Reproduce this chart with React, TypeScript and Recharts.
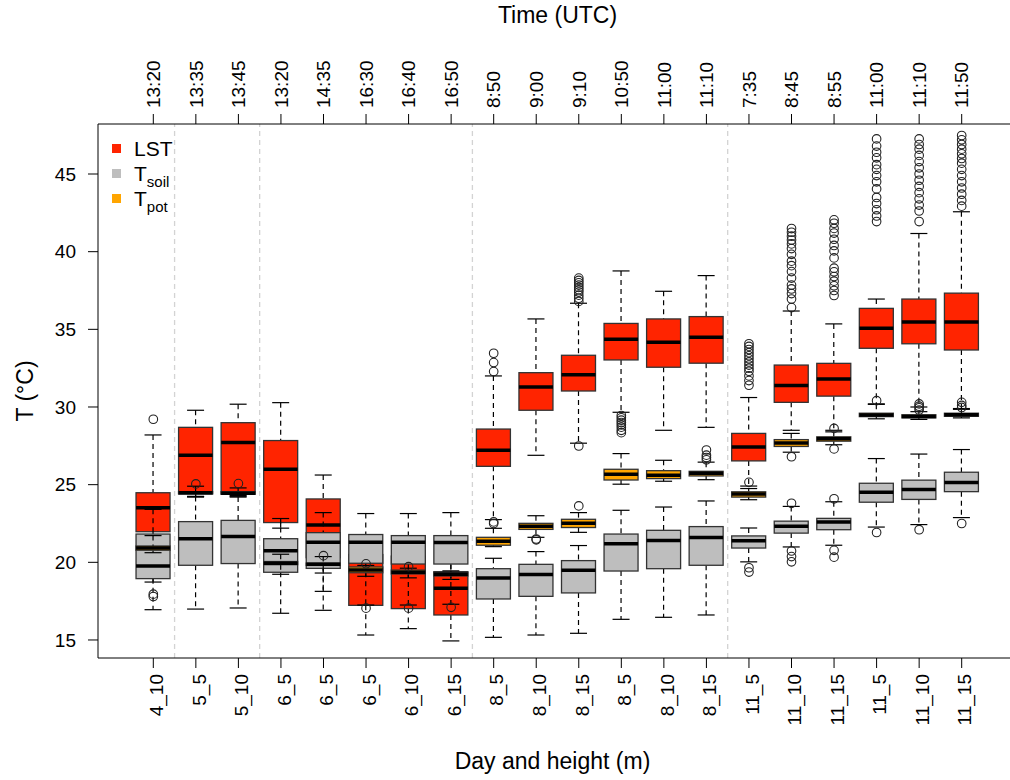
import React from "react";
import { Bar, ComposedChart, Legend, ReferenceLine, Scatter, Text, XAxis, YAxis } from "recharts";

// day_height labels (bottom) and acquisition times (top)
const dayHeight = ["4_10", "5_5", "5_10", "6_5", "6_5", "6_5", "6_10", "6_15", "8_5", "8_10", "8_15", "8_5", "8_10", "8_15", "11_5", "11_10", "11_15", "11_5", "11_10", "11_15"];
const times = ["13:20", "13:35", "13:45", "13:20", "14:35", "16:30", "16:40", "16:50", "8:50", "9:00", "9:10", "10:50", "11:00", "11:10", "7:35", "8:45", "8:55", "11:00", "11:10", "11:50"];

// box stats: [lower whisker, Q1, median, Q3, upper whisker]
const lst = [
  [18.73, 21.97, 23.52, 24.48, 28.2],
  [24.2, 24.4, 26.89, 28.69, 29.79],
  [24.3, 24.4, 27.71, 28.99, 30.18],
  [22.2, 22.56, 25.99, 27.84, 30.28],
  [18.13, 20.3, 22.4, 24.08, 25.62],
  [15.32, 17.23, 19.51, 20.5, 21.5],
  [15.73, 17.02, 19.36, 20.4, 21.5],
  [14.94, 16.61, 18.33, 19.4, 21.0],
  [22.75, 26.18, 27.21, 28.58, 32.0],
  [26.89, 29.79, 31.29, 32.21, 35.67],
  [27.67, 31.03, 32.08, 33.33, 36.68],
  [29.66, 33.03, 34.36, 35.38, 38.76],
  [28.5, 32.56, 34.17, 35.67, 37.45],
  [28.69, 32.82, 34.49, 35.82, 38.46],
  [24.91, 26.53, 27.42, 28.3, 30.61],
  [28.5, 30.3, 31.39, 32.7, 36.18],
  [28.5, 30.7, 31.8, 32.81, 35.35],
  [30.2, 33.78, 35.07, 36.35, 36.95],
  [30.0, 34.07, 35.47, 36.95, 41.17],
  [29.9, 33.67, 35.47, 37.33, 42.57],
];
const soil = [
  [16.95, 18.95, 19.76, 21.82, 23.41],
  [16.99, 19.81, 21.52, 22.62, 24.24],
  [17.06, 19.92, 21.66, 22.7, 24.2],
  [16.72, 19.36, 20.75, 21.52, 22.82],
  [16.91, 19.61, 21.29, 21.91, 23.2],
  [17.25, 19.94, 21.29, 21.79, 23.14],
  [17.25, 19.89, 21.29, 21.72, 23.14],
  [17.3, 19.89, 21.27, 21.72, 23.2],
  [15.17, 17.64, 18.99, 19.59, 20.26],
  [15.32, 17.81, 19.21, 19.87, 20.69],
  [15.43, 18.03, 19.49, 20.11, 21.08],
  [16.33, 19.44, 21.2, 21.82, 23.35],
  [16.46, 19.59, 21.4, 22.06, 23.56],
  [16.61, 19.81, 21.59, 22.3, 23.95],
  [20.03, 20.92, 21.39, 21.7, 22.21],
  [20.99, 21.88, 22.32, 22.65, 23.6],
  [21.1, 22.1, 22.59, 22.83, 23.9],
  [22.27, 23.87, 24.51, 25.09, 26.68],
  [22.43, 24.05, 24.69, 25.29, 26.97],
  [22.88, 24.55, 25.14, 25.8, 27.26],
];
const pot = [
  [20.62, 20.78, 20.92, 21.05, 21.72],
  [24.24, 24.42, 24.48, 24.55, 24.9],
  [24.25, 24.38, 24.45, 24.55, 24.79],
  [19.23, 19.85, 19.94, 20.05, 20.52],
  [19.31, 19.8, 19.87, 19.95, 20.37],
  [19.1, 19.33, 19.5, 19.7, 19.8],
  [19.0, 19.25, 19.36, 19.5, 19.62],
  [18.9, 19.12, 19.23, 19.35, 19.45],
  [21.01, 21.1, 21.36, 21.61, 22.19],
  [21.61, 22.12, 22.32, 22.51, 23.0],
  [21.93, 22.24, 22.51, 22.77, 23.2],
  [25.03, 25.3, 25.67, 25.99, 27.0],
  [25.22, 25.39, 25.6, 25.9, 26.57],
  [25.32, 25.56, 25.73, 25.86, 26.45],
  [24.03, 24.2, 24.4, 24.54, 24.75],
  [27.09, 27.46, 27.68, 27.9, 28.3],
  [27.57, 27.8, 27.95, 28.08, 28.4],
  [29.24, 29.38, 29.49, 29.6, 30.17],
  [29.2, 29.3, 29.39, 29.5, 29.7],
  [29.3, 29.4, 29.5, 29.6, 29.85],
];

// outliers per box
const lstOut = [
  [29.21, 17.95, 17.8], [], [], [], [], [], [], [],
  [32.28, 32.86, 33.46],
  [],
  [27.49, 36.8, 37.0, 37.2, 37.4, 37.55, 37.7, 37.85, 38.0, 38.15, 38.3],
  [29.45, 29.3, 29.15, 29.0, 28.85, 28.7, 28.5, 28.35],
  [], [],
  [31.4, 31.7, 32.0, 32.3, 32.5, 32.7, 32.9, 33.1, 33.3, 33.5, 33.7, 33.9, 34.07],
  [36.4, 36.95, 37.3, 37.6, 37.85, 38.3, 38.72, 39.1, 39.39, 39.83, 40.2, 40.5, 40.75, 41.0, 41.25, 41.49],
  [37.18, 37.5, 37.8, 38.1, 38.4, 38.7, 38.94, 39.6, 40.05, 40.4, 40.8, 41.2, 41.5, 41.83, 42.05],
  [41.94, 42.3, 42.7, 43.1, 43.49, 44.04, 44.5, 44.9, 45.3, 45.6, 46.04, 46.4, 46.8, 47.26],
  [41.94, 42.62, 43.0, 43.4, 43.8, 44.2, 44.6, 45.0, 45.4, 45.8, 46.2, 46.6, 46.9, 47.26],
  [42.93, 43.3, 43.7, 44.1, 44.5, 44.9, 45.3, 45.7, 46.0, 46.3, 46.6, 46.9, 47.2, 47.48],
];
const soilOut = [
  [], [], [], [], [], [17.05], [17.05], [17.1], [], [], [], [], [], [],
  [19.65, 19.37],
  [23.8, 20.73, 20.37, 20.03],
  [24.09, 20.77, 20.33],
  [21.92], [22.1], [22.5],
];
const potOut = [
  [], [25.05], [25.07], [], [20.43], [19.9], [19.72], [],
  [22.5, 22.6],
  [21.45, 21.5],
  [23.63],
  [], [],
  [26.6, 26.75, 26.9, 27.23],
  [25.15],
  [26.8],
  [28.62, 27.3],
  [30.41],
  [29.8, 29.95, 30.05, 30.2],
  [29.97, 30.1, 30.3],
];

const legendNames = ["LST", "T", "T"];
const legendSubs = ["", "soil", "pot"];
const yTicks = [15, 20, 25, 30, 35, 40, 45];
const separators = [1.5, 3.5, 8.5, 14.5];

const RED = "#ff2400";
const GRAY = "#bebebe";
const ORANGE = "#ffa500";
const colors = [RED, GRAY, ORANGE];

const positions = dayHeight.map((_, i) => i + 1);
// each row carries the whisker range (what the bar spans) plus the full stats
const rows = positions.map((pos, i) => ({
  pos,
  lst: lst[i],
  soil: soil[i],
  pot: pot[i],
  lstRange: [lst[i][0], lst[i][4]],
  soilRange: [soil[i][0], soil[i][4]],
  potRange: [pot[i][0], pot[i][4]],
}));
const toPoints = (out: number[][]) => out.flatMap((vals, i) => vals.map((t) => ({ pos: i + 1, t })));

const xDomain: [number, number] = [-0.3, 21.3];
const FONT = "'Liberation Sans', Arial, Helvetica, sans-serif";

function BoxShape(props: any) {
  const { x, y, width, height, payload, statKey, fill } = props;
  const stats = payload && payload[statKey];
  if (!stats || !Number.isFinite(y) || !Number.isFinite(height)) return null;
  const [lo, q1, med, q3, hi] = stats as number[];
  // the bar spans lo..hi, so the other stats are placed on the same linear scale
  const toY = (v: number) => y + ((hi - v) / (hi - lo)) * height;
  const cx = x + width / 2;
  const cap = width / 4;
  return (
    <g>
      <line x1={cx} x2={cx} y1={toY(hi)} y2={toY(q3)} stroke="#000" strokeWidth={1.2} strokeDasharray="5 4" />
      <line x1={cx} x2={cx} y1={toY(q1)} y2={toY(lo)} stroke="#000" strokeWidth={1.2} strokeDasharray="5 4" />
      <line x1={cx - cap} x2={cx + cap} y1={toY(hi)} y2={toY(hi)} stroke="#000" strokeWidth={1.2} />
      <line x1={cx - cap} x2={cx + cap} y1={toY(lo)} y2={toY(lo)} stroke="#000" strokeWidth={1.2} />
      <rect x={x} y={toY(q3)} width={width} height={Math.max(toY(q1) - toY(q3), 0.5)} fill={fill} stroke="#333" strokeWidth={1.3} />
      <line x1={x} x2={x + width} y1={toY(med)} y2={toY(med)} stroke="#000" strokeWidth={3.5} />
    </g>
  );
}

function Ring(props: any) {
  if (!Number.isFinite(props.cx) || !Number.isFinite(props.cy)) return null;
  return <circle cx={props.cx} cy={props.cy} r={4.3} fill="none" stroke="#222" strokeWidth={1.1} />;
}

function BottomTick(props: any) {
  const { x, y, payload } = props;
  return (
    <g transform="translate(3, 0)">
      <Text x={x} y={y} angle={-90} textAnchor="end" verticalAnchor="middle" fontSize={19} fill="#000">
        {dayHeight[Math.round(payload?.value) - 1] ?? ""}
      </Text>
    </g>
  );
}

function TopTick(props: any) {
  const { x, y, payload } = props;
  return (
    <Text x={x} y={y} angle={-90} textAnchor="start" verticalAnchor="middle" fontSize={19} fill="#000">
      {times[Math.round(payload?.value) - 1] ?? ""}
    </Text>
  );
}

function YTitle(props: any) {
  const vb = props.viewBox || { x: 0, y: 124, width: 98, height: 534 };
  const cx = vb.x + 25;
  const cy = vb.y + vb.height / 2;
  return (
    <text x={cx} y={cy} transform={`rotate(-90, ${cx}, ${cy})`} textAnchor="middle" dy="0.36em" fontSize={23} fill="#000">
      T (°C)
    </text>
  );
}

function LegendBox() {
  return (
    <div style={{ fontSize: 21, whiteSpace: "nowrap", color: "#000", width: 120 }}>
      {legendNames.map((n, i) => (
        <div key={i} style={{ display: "flex", alignItems: "center", height: 25 }}>
          <span style={{ display: "inline-block", flexShrink: 0, width: 9, height: 9, background: colors[i], marginRight: 13 }} />
          <span>
            {n}
            <span style={{ fontSize: 15, position: "relative", top: 6 }}>{legendSubs[i]}</span>
          </span>
        </div>
      ))}
    </div>
  );
}

export default function App() {
  return (
    <div style={{ position: "absolute", left: 0, top: 0, width: 1010, height: 780, overflow: "hidden", background: "#fff", fontFamily: FONT }}>
      <ComposedChart width={1030} height={780} data={rows} margin={{ top: 0, right: 13, bottom: 0, left: 0 }}>
        <XAxis
          xAxisId="bottom"
          dataKey="pos"
          type="number"
          domain={xDomain}
          ticks={positions}
          interval={0}
          allowDataOverflow
          height={122}
          tickSize={10}
          tickMargin={6}
          stroke="#000"
          tick={BottomTick}
          label={{ value: "Day and height (m)", position: "insideBottom", offset: 11, dx: -5, fontSize: 23, fill: "#000" }}
        />
        <XAxis
          xAxisId="top"
          orientation="top"
          dataKey="pos"
          type="number"
          domain={xDomain}
          ticks={positions}
          interval={0}
          allowDataOverflow
          height={124}
          tickSize={10}
          tickMargin={6}
          stroke="#000"
          tick={TopTick}
          label={{ value: "Time (UTC)", position: "insideTop", offset: 7, fontSize: 23, fill: "#000" }}
        />
        <XAxis xAxisId="third" dataKey="pos" type="number" domain={xDomain} ticks={positions} allowDataOverflow hide />
        <YAxis
          type="number"
          domain={[13.84, 48.22]}
          ticks={yTicks}
          interval={0}
          allowDataOverflow
          width={98}
          tickSize={10}
          tickMargin={12}
          stroke="#000"
          tick={{ fill: "#000", fontSize: 19 }}
          label={YTitle}
        />
        {separators.map((s) => (
          <ReferenceLine key={s} xAxisId="bottom" x={s} stroke="#d3d3d3" strokeWidth={1.3} strokeDasharray="5 4" />
        ))}
        <Bar
          xAxisId="bottom"
          dataKey="lstRange"
          barSize={34}
          isAnimationActive={false}
          shape={(p: any) => <BoxShape {...p} statKey="lst" fill={RED} />}
        />
        <Bar
          xAxisId="top"
          dataKey="soilRange"
          barSize={34}
          isAnimationActive={false}
          shape={(p: any) => <BoxShape {...p} statKey="soil" fill={GRAY} />}
        />
        <Bar
          xAxisId="third"
          dataKey="potRange"
          barSize={34}
          isAnimationActive={false}
          shape={(p: any) => <BoxShape {...p} statKey="pot" fill={ORANGE} />}
        />
        <Scatter xAxisId="bottom" data={toPoints(lstOut)} dataKey="t" shape={Ring} isAnimationActive={false} />
        <Scatter xAxisId="bottom" data={toPoints(soilOut)} dataKey="t" shape={Ring} isAnimationActive={false} />
        <Scatter xAxisId="bottom" data={toPoints(potOut)} dataKey="t" shape={Ring} isAnimationActive={false} />
        <Legend
          content={LegendBox}
          wrapperStyle={{ left: 112, top: 136, width: 0, height: 0, overflow: "visible" }}
        />
      </ComposedChart>
    </div>
  );
}
